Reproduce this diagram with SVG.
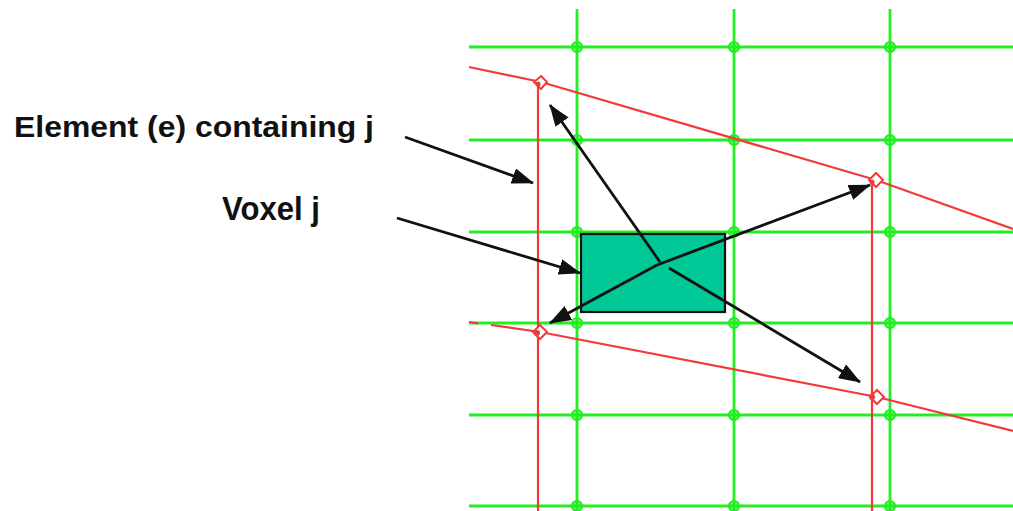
<svg xmlns="http://www.w3.org/2000/svg" width="1013" height="511" viewBox="0 0 1013 511">
<style>
.g{stroke:#22EE22;stroke-width:2.8;fill:none}
.gn{stroke:#22EE22;stroke-width:2.2;fill:#22EE22;fill-opacity:0.6}
.r{stroke:#F23A3A;stroke-width:2.2;fill:none}
.rd{stroke:#F23A3A;stroke-width:2;fill:#fff}
.a{stroke:#111;stroke-width:2.8;fill:none;marker-end:url(#ah)}
.t{font-family:"Liberation Sans",Arial,sans-serif;font-weight:bold;fill:#111}
</style>
<defs>
<marker id="ah" markerUnits="userSpaceOnUse" markerWidth="22" markerHeight="16" refX="21" refY="8" orient="auto">
<path d="M0,0 L22,8 L0,16 z" fill="#111"/>
</marker>
</defs>
<rect width="1013" height="511" fill="#fff"/>
<g id="grid">
<path class="g" d="M469,47H1013M469,140H1013M469,232H1013M469,323H1013M469,415H1013M469,506H1013"/>
<path class="g" d="M577,9V511M734,9V511M890,9V511"/>
<g id="grid-nodes">
<circle class="gn" cx="577" cy="47" r="5"/><circle class="gn" cx="734" cy="47" r="5"/><circle class="gn" cx="890" cy="47" r="5"/>
<circle class="gn" cx="577" cy="140" r="5"/><circle class="gn" cx="734" cy="140" r="5"/><circle class="gn" cx="890" cy="140" r="5"/>
<circle class="gn" cx="577" cy="232" r="5"/><circle class="gn" cx="734" cy="232" r="5"/><circle class="gn" cx="890" cy="232" r="5"/>
<circle class="gn" cx="577" cy="323" r="5"/><circle class="gn" cx="734" cy="323" r="5"/><circle class="gn" cx="890" cy="323" r="5"/>
<circle class="gn" cx="577" cy="415" r="5"/><circle class="gn" cx="734" cy="415" r="5"/><circle class="gn" cx="890" cy="415" r="5"/>
<circle class="gn" cx="577" cy="506" r="5"/><circle class="gn" cx="734" cy="506" r="5"/><circle class="gn" cx="890" cy="506" r="5"/>
</g>
</g>
<g id="element">
<polyline class="r" points="469,67 541,82 876,180 1013,229"/>
<path class="r" d="M469,322L478,323.3M491,325L540,332L877,397L1013,431"/>
<path class="r" d="M538,82V511M872,180V511"/>
<path class="rd" d="M541,76L547,82L541,89L534,82z"/>
<path class="rd" d="M876,173L883,180L876,187L869,180z"/>
<path class="rd" d="M540,325L547,332L540,339L533,332z"/>
<path class="rd" d="M877,390L884,397L877,404L870,397z"/>
<circle cx="538" cy="84" r="2.5" fill="#F23A3A"/>
<circle cx="872" cy="182" r="2.5" fill="#F23A3A"/>
<circle cx="537" cy="333" r="3" fill="#F23A3A"/>
<circle cx="872" cy="397" r="3" fill="#F23A3A"/>
</g>
<g id="voxel">
<rect x="581" y="234" width="144" height="78" fill="#00C896" stroke="#111" stroke-width="2.2"/>
</g>
<g id="connectors">
<line class="a" x1="660" y1="262" x2="550" y2="105"/>
<line class="a" x1="657" y1="265" x2="870" y2="185"/>
<line class="a" x1="657" y1="265" x2="550" y2="323"/>
<line class="a" x1="669" y1="268" x2="860" y2="382"/>
<line class="a" x1="405" y1="137" x2="533" y2="183"/>
<line class="a" x1="397" y1="218" x2="580" y2="273"/>
</g>
<g id="labels">
<text class="t" x="14" y="137" font-size="30" textLength="360" lengthAdjust="spacingAndGlyphs">Element (e) containing j</text>
<text class="t" x="222" y="220" font-size="34" textLength="98" lengthAdjust="spacingAndGlyphs">Voxel j</text>
</g>
</svg>
